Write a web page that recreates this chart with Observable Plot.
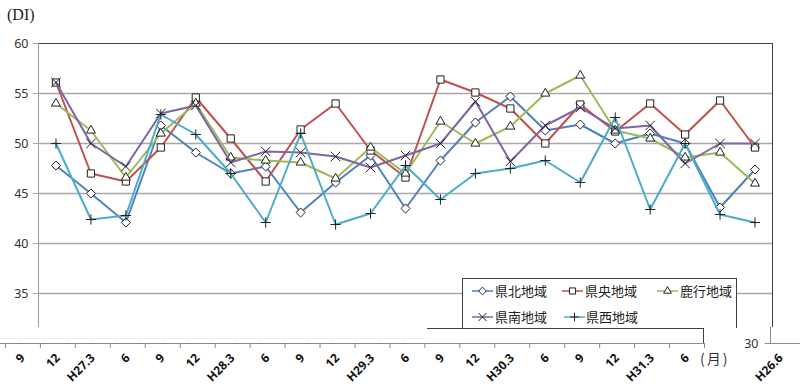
<!DOCTYPE html>
<html><head><meta charset="utf-8">
<script src="https://cdn.jsdelivr.net/npm/d3@7"></script>
<script src="https://cdn.jsdelivr.net/npm/@observablehq/plot@0.6"></script>
<style>
body{margin:0;background:#fff;}
#wrap{position:relative;width:800px;height:386px;overflow:hidden;font-family:"Noto Sans CJK JP","Noto Sans",sans-serif;}
.ov{position:absolute;white-space:nowrap;line-height:1;}
</style></head><body><div id="wrap"></div>
<script>
const categories = ["H26.6","9","12","H27.3","6","9","12","H28.3","6","9","12","H29.3","6","9","12","H30.3","6","9","12","H31.3","6"];
const seriesNames = ["県北地域","県央地域","鹿行地域","県南地域","県西地域"];
const kenpoku = [47.8, 45.0, 42.1, 51.8, 49.1, 47.0, 47.7, 43.1, 46.1, 48.8, 43.5, 48.3, 52.1, 54.7, 51.3, 51.9, 50.0, 51.0, 50.0, 43.6, 47.4];
const kenou   = [56.1, 47.0, 46.2, 49.6, 54.6, 50.5, 46.2, 51.4, 54.0, 49.3, 46.6, 56.4, 55.1, 53.5, 50.0, 53.9, 51.2, 54.0, 50.9, 54.3, 49.6];
const rokko   = [54.0, 51.3, 46.6, 51.0, 54.0, 48.6, 48.3, 48.1, 46.5, 49.6, 47.0, 52.2, 50.0, 51.7, 55.0, 56.8, 51.3, 50.5, 48.6, 49.1, 46.0];
const kennan  = [56.1, 50.0, 47.7, 53.0, 53.8, 48.1, 49.2, 49.1, 48.7, 47.6, 48.8, 50.0, 54.2, 48.2, 51.8, 53.6, 51.5, 51.8, 48.0, 50.0, 50.0];
const kensei  = [50.0, 42.4, 42.8, 52.9, 50.9, 47.0, 42.1, 51.0, 41.9, 43.0, 47.8, 44.4, 47.0, 47.5, 48.3, 46.1, 52.6, 43.4, 50.0, 42.9, 42.1];
const yTicks = [35, 40, 45, 50, 55, 60];
const yLabel = "(DI)";
const xLabel = "(月)";

const seriesValues = [kenpoku, kenou, rokko, kennan, kensei];
const colors = ["#4F81BD", "#C0504D", "#9BBB59", "#8064A2", "#4BACC6"];
const symbols = ["diamond2", "square2", "triangle2", "times", "plus"];
const radii = [4.1, 4.6, 4.3, 4.4, 3.4];

const shift = -68;      // lower strip offset seen in the reference
const wrap = 732;       // wrapped fragment offset

const marks = [];
// gridlines
marks.push(Plot.ruleY(yTicks.filter(d => d < 60), {stroke: "#a8a8a8", strokeWidth: 1.3}));
marks.push(Plot.ruleY([60], {stroke: "#404040", strokeWidth: 1}));
// y axis line and right border
marks.push(Plot.ruleX([-0.5], {y1: 31.6, y2: 60, stroke: "#9a9a9a"}));
marks.push(Plot.ruleX([20.5], {y1: 31.6, y2: 60, stroke: "#404040"}));
marks.push(Plot.axisY({ticks: yTicks, label: null, tickSize: 5, tickPadding: 5, stroke: "#a8a8a8", fill: "#333", fontSize: 12.5, fontFamily: "Noto Sans, sans-serif"}));

// series
seriesValues.forEach((vals, s) => {
  const rows = vals.map((v, i) => ({i, v, name: seriesNames[s]}));
  marks.push(Plot.line(rows, {x: "i", y: "v", stroke: colors[s], strokeWidth: 2}));
  marks.push(Plot.dot(rows, {x: "i", y: "v", symbol: symbols[s], r: radii[s], stroke: "#222", strokeWidth: 1,
    fill: (s < 3 ? "white" : "none")}));
});

// shifted bottom strip: x axis
const bounds = d3.range(-0.5, 21, 1);
marks.push(Plot.ruleY([30], {x1: () => -0.5, x2: () => 20.5, dy: -5, dx: shift, stroke: "#cfcfcf", strokeDasharray: "1,2"}));
marks.push(Plot.ruleY([30], {x1: () => -0.5, x2: () => 20.5, dx: shift, stroke: "#8a8a8a"}));
marks.push(Plot.ruleX(bounds, {x: d => d, y1: 29.5, y2: 30, dx: shift, stroke: "#8a8a8a"}));
const labelRows = categories.map((c, i) => ({i, c}));
const textOpts = {x: "i", y: () => 30, text: "c", rotate: -45, textAnchor: "end", lineAnchor: "middle",
  dy: 12.5, fontWeight: "bold", fontSize: 12, fill: "#111", fontFamily: "Noto Sans, sans-serif"};
marks.push(Plot.text(labelRows.slice(1), {...textOpts, dx: shift}));
// wrapped fragment on the right
marks.push(Plot.text(labelRows.slice(0, 1), {...textOpts, dx: 725}));
marks.push(Plot.ruleY([30], {x1: () => -0.65, x2: () => 0.5, dx: wrap, stroke: "#8a8a8a"}));
marks.push(Plot.ruleX([-0.5], {y1: 30, y2: 31.6, dx: wrap, stroke: "#8a8a8a"}));
marks.push(Plot.text([30], {x: () => -0.5, y: d => d, text: d => String(d), dx: wrap - 12, textAnchor: "end",
  fontSize: 12.5, fill: "#333", fontFamily: "Noto Sans, sans-serif"}));

const chart = Plot.plot({
  width: 800, height: 386,
  marginLeft: 38, marginRight: 28, marginTop: 43, marginBottom: 43,
  x: {type: "linear", domain: [-0.5, 20.5], axis: null, label: null},
  y: {domain: [30, 60], axis: null, label: null},
  style: {background: "white", overflow: "visible"},
  marks
});
const wrapEl = document.getElementById("wrap");
wrapEl.appendChild(chart);

function ov(text, css) {
  const d = document.createElement("div");
  d.className = "ov";
  d.textContent = text;
  Object.assign(d.style, css);
  wrapEl.appendChild(d);
  return d;
}
ov(yLabel, {left: "7px", top: "7px", fontFamily: "'Liberation Serif','DejaVu Serif',serif", fontSize: "16px", color: "#222"});
ov(xLabel, {left: "700px", top: "351px", fontSize: "14px", color: "#333", letterSpacing: "2px"});

// legend box
const box = document.createElement("div");
Object.assign(box.style, {position: "absolute", left: "462px", top: "278px", width: "275px", height: "50px",
  borderTop: "1px solid #404040", borderLeft: "1px solid #404040", borderRight: "1px solid #404040", background: "white", boxSizing: "border-box"});
wrapEl.appendChild(box);
const frag = document.createElement("div");
Object.assign(frag.style, {position: "absolute", left: "427px", top: "328px", width: "277px", height: "15px",
  borderTop: "1px solid #404040", borderRight: "1px solid #404040", background: "white", boxSizing: "border-box"});
wrapEl.appendChild(frag);

const symMap = {diamond2: d3.symbolDiamond2, square2: d3.symbolSquare2, triangle2: d3.symbolTriangle2, times: d3.symbolTimes, plus: d3.symbolPlus};
const legendPos = [[472, 291, 495], [562, 291, 585], [657, 291, 680], [472, 317, 495], [564, 317, 586]];
seriesNames.forEach((name, s) => {
  const [sx, cy, tx] = legendPos[s];
  const svg = d3.create("svg").attr("width", 22).attr("height", 14)
    .style("position", "absolute").style("left", sx + "px").style("top", (cy - 7) + "px");
  svg.append("line").attr("x1", 0).attr("x2", 21).attr("y1", 7).attr("y2", 7).attr("stroke", colors[s]).attr("stroke-width", 1.5);
  const r = radii[s] * 0.85;
  svg.append("path").attr("transform", "translate(10.5,7)")
    .attr("d", d3.symbol(symMap[symbols[s]], Math.PI * r * r)())
    .attr("fill", s < 3 ? "white" : "none").attr("stroke", "#222").attr("stroke-width", 1);
  wrapEl.appendChild(svg.node());
  ov(name, {left: tx + "px", top: (cy - 7) + "px", fontSize: "13px", color: "#222"});
});
</script>
</body></html>
